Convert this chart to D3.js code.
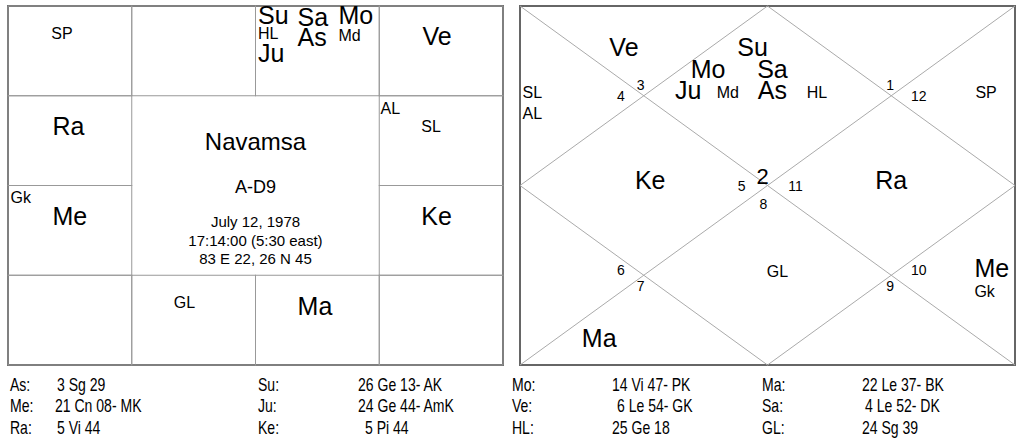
<!DOCTYPE html>
<html><head><meta charset="utf-8">
<script src="https://cdn.jsdelivr.net/npm/d3@7"></script>
<style>body{margin:0;background:#fff}svg{font-family:Arial,"Liberation Sans",sans-serif}</style>
</head><body><div id="chart"></div>
<script>
// south chart: sign cell (col,row) and planets in each
const southCells = [[0,0],[1,0],[2,0],[3,0],[3,1],[3,2],[3,3],[2,3],[1,3],[0,3],[0,2],[0,1]] // Pi..Aq
const southLabels = [
  ["SP",0,.35,.37,"s"],["Ve",3,.35,.43,"b"],
  ["Su",2,.02,.2,"b"],["Sa",2,.34,.22,"b"],["Mo",2,.67,.2,"b"],
  ["HL",2,.02,.37,"s"],["As",2,.34,.45,"b"],["Md",2,.67,.39,"s"],["Ju",2,.02,.62,"b"],
  ["AL",4,.01,.2,"s"],["SL",4,.34,.4,"s"],["Ke",5,.34,.44,"b"],
  ["GL",8,.34,.37,"s"],["Ma",7,.34,.44,"b"],
  ["Me",10,.36,.44,"b"],["Gk",10,.02,.2,"s"],["Ra",11,.36,.44,"b"]
]
const centerText = [["Navamsa",24],["A-D9",18],["July 12, 1978",15],["17:14:00 (5:30 east)",15],["83 E 22, 26 N 45",15]]
const centerY = [150,193,227,246,264]

// north chart labels: [text, x, y] in unit chart coords (0..1)
const northHouses = [["1",.74,.235],["12",.79,.265],["3",.236,.235],["4",.196,.265],["5",.44,.515],["2",.478,.495,"b2"],["11",.542,.515],["8",.484,.565],["6",.196,.75],["7",.236,.795],["10",.79,.75],["9",.74,.795]]
const northLabels = [["Ve",.21,.14,"b"],["Su",.47,.14,"b"],["Mo",.38,.2,"b"],["Sa",.51,.2,"b"],["Ju",.34,.26,"b"],["Md",.42,.255,"s"],["As",.51,.26,"b"],["HL",.6,.255,"s"],
  ["SL",.005,.255,"s"],["AL",.005,.315,"s"],["SP",.92,.255,"s"],["Ke",.263,.51,"b"],["Ra",.75,.51,"b"],["GL",.52,.755,"s"],["Me",.918,.755,"b"],["Gk",.918,.81,"s"],["Ma",.16,.95,"b"]]

const tableRows = [
  ["As:","3 Sg 29","Su:","26 Ge 13- AK","Mo:","14 Vi 47- PK","Ma:","22 Le 37- BK"],
  ["Me:","21 Cn 08- MK","Ju:","24 Ge 44- AmK","Ve:","6 Le 54- GK","Sa:","4 Le 52- DK"],
  ["Ra:","5 Vi 44","Ke:","5 Pi 44","HL:","25 Ge 18","GL:","24 Sg 39"]
]
const colX = [10,55,258,358,512,612,762,862]
const valShift = {"3 Sg 29":2,"5 Vi 44":2,"5 Pi 44":7,"6 Le 54- GK":5,"4 Le 52- DK":3}

const svg = d3.select("#chart").append("svg").attr("width",1024).attr("height",440)

/* ___ south indian chart ___ */
const sx = d3.scaleLinear().domain([0,4]).range([8,503])
const sy = d3.scaleLinear().domain([0,4]).range([6,365])
const gS = svg.append("g")
gS.append("rect").attr("x",sx(0)).attr("y",sy(0)).attr("width",sx(4)-sx(0)).attr("height",sy(4)-sy(0))
  .attr("fill","none").attr("stroke","#666").attr("stroke-width",2)
southCells.forEach(c=>{
  gS.append("rect").attr("x",sx(c[0])).attr("y",sy(c[1])).attr("width",sx(1)-sx(0)).attr("height",sy(1)-sy(0))
    .attr("fill","none").attr("stroke","#999").attr("stroke-width",1)
})
southLabels.forEach(d=>{
  const c = southCells[d[1]]
  gS.append("text").attr("x",sx(c[0]+d[2])).attr("y",sy(c[1]+d[3]))
    .attr("font-size",d[4]=="b"?25:16).text(d[0])
})
centerText.forEach((d,i)=>{
  gS.append("text").attr("x",sx(2)).attr("y",centerY[i]).attr("text-anchor","middle")
    .attr("font-size",d[1]).text(d[0])
})

/* ___ north indian chart ___ */
const nx = d3.scaleLinear().domain([0,1]).range([520,1015])
const ny = d3.scaleLinear().domain([0,1]).range([6,365])
const gN = svg.append("g")
gN.append("rect").attr("x",nx(0)).attr("y",ny(0)).attr("width",nx(1)-nx(0)).attr("height",ny(1)-ny(0))
  .attr("fill","none").attr("stroke","#666").attr("stroke-width",2)
const lines = [[[0,0],[1,1]],[[1,0],[0,1]],[[.5,0],[1,.5]],[[1,.5],[.5,1]],[[.5,1],[0,.5]],[[0,.5],[.5,0]]]
lines.forEach(l=>{
  gN.append("line").attr("x1",nx(l[0][0])).attr("y1",ny(l[0][1])).attr("x2",nx(l[1][0])).attr("y2",ny(l[1][1]))
    .attr("stroke","#aaa").attr("stroke-width",1)
})
northHouses.forEach(d=>{
  gN.append("text").attr("x",nx(d[1])).attr("y",ny(d[2])).attr("text-anchor","start")
    .attr("font-size",d[3]?22:14).text(d[0])
})
northLabels.forEach(d=>{
  gN.append("text").attr("x",nx(d[1])).attr("y",ny(d[2])).attr("text-anchor",d[1]<.05||d[1]>.9?"start":"middle")
    .attr("font-size",d[3]=="b"?25:16).text(d[0])
})

/* ___ bottom table ___ */
const gT = svg.append("g").attr("font-size",18).attr("transform","scale(0.78,1)")
tableRows.forEach((r,i)=>{
  r.forEach((t,j)=>{
    gT.append("text").attr("x",(colX[j]+(valShift[t]||0))/0.78).attr("y",391+i*21.5).text(t)
  })
})
</script></body></html>
